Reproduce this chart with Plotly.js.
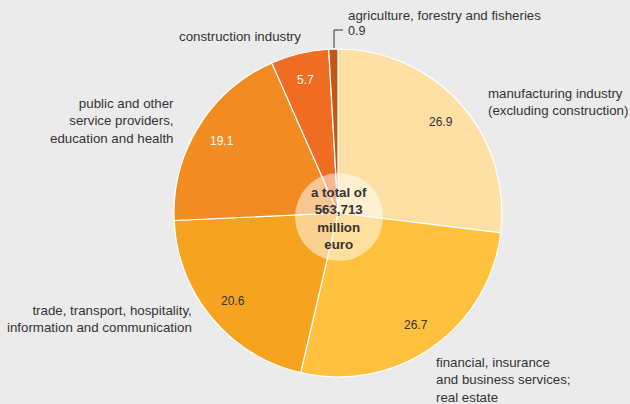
<!DOCTYPE html>
<html><head><meta charset="utf-8">
<script src="https://cdn.plot.ly/plotly-3.0.1.min.js"></script>
<style>html,body{margin:0;padding:0;background:#ebebec;}#c{width:630px;height:404px;}</style>
</head><body><div id="c"></div>
<script>
const sectors = ["manufacturing industry (excluding construction)","financial, insurance and business services; real estate","trade, transport, hospitality, information and communication","public and other service providers, education and health","construction industry","agriculture, forestry and fisheries"];
const shares = [26.9, 26.7, 20.6, 19.1, 5.7, 0.9];
const colors = ["#fee0a4","#ffc13e","#f6a31f","#f28b22","#ef6c22","#c85516"];
const valueTextColors = ["#333333","#333333","#333333","#ffffff","#ffffff"];
const outsideLabels = ["manufacturing industry<br>(excluding construction)","financial, insurance<br>and business services;<br>real estate","trade, transport, hospitality,<br>information and communication","public and other<br>service providers,<br>education and health","construction industry","agriculture, forestry and fisheries"];
const totalText = "a total of<br>563,713<br>million<br>euro";

const W=630,H=404;
const px=x=>x/W, py=y=>1-y/H;
const font="Liberation Sans, Arial, sans-serif";
const CX=338, CY=213, R=164, RT=137;
const lab=(i,x,y,anchor)=>({text:outsideLabels[i],x:px(x),y:py(y),xref:'paper',yref:'paper',showarrow:false,xanchor:anchor,yanchor:'middle',align:anchor,font:{family:font,size:13.3,color:'#333'}});
const anns=[
  lab(0,486,102,'left'),
  lab(1,434,380,'left'),
  lab(2,194,319,'right'),
  lab(3,176,121,'right'),
  lab(4,303,37,'right'),
  lab(5,346,15,'left'),
  {text:String(shares[5]),x:px(346),y:py(31),xref:'paper',yref:'paper',showarrow:false,xanchor:'left',yanchor:'middle',font:{family:font,size:12.5,color:'#333'}},
  {text:'<b>'+totalText+'</b>',x:px(339),y:py(218),xref:'paper',yref:'paper',showarrow:false,xanchor:'center',yanchor:'middle',font:{family:font,size:13.3,color:'#333'}}
];
// value labels at the mid-angle of each slice
const total=shares.reduce((a,b)=>a+b,0);
let cum=0;
shares.forEach((v,i)=>{
  const mid=(cum+v/2)/total*2*Math.PI; cum+=v;
  if(i>=5) return;
  const x=CX+RT*Math.sin(mid), y=CY-RT*Math.cos(mid);
  anns.push({text:v.toFixed(1),x:px(x),y:py(y),xref:'paper',yref:'paper',showarrow:false,xanchor:'center',yanchor:'middle',font:{family:font,size:12,color:valueTextColors[i]}});
});
Plotly.newPlot('c',[{
  type:'pie',values:shares,labels:sectors,sort:false,direction:'clockwise',rotation:0,
  marker:{colors:colors,line:{color:'#ffffff',width:1.2}},
  textinfo:'none',
  hoverinfo:'none',showlegend:false,
  domain:{x:[px(CX-R),px(CX+R)],y:[py(CY+R),py(CY-R)]}
}],{
  width:W,height:H,margin:{l:0,r:0,t:0,b:0},paper_bgcolor:'#ebebec',plot_bgcolor:'#ebebec',
  showlegend:false,annotations:anns,
  shapes:[
    {type:'circle',xref:'paper',yref:'paper',x0:px(295),x1:px(383),y0:py(173),y1:py(261),fillcolor:'rgba(255,255,255,0.5)',line:{width:0},layer:'above'},
    {type:'path',xref:'paper',yref:'paper',path:`M ${px(334)} ${py(48)} L ${px(334)} ${py(30)} L ${px(343)} ${py(30)}`,line:{color:'#333',width:1}}
  ]
},{displayModeBar:false,staticPlot:true});
</script></body></html>
